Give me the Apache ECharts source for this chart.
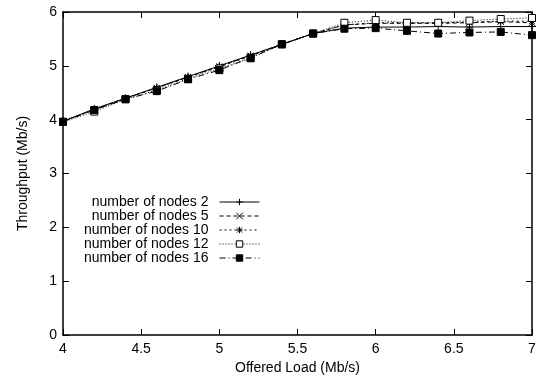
<!DOCTYPE html>
<html><head><meta charset="utf-8">
<script src="https://cdn.jsdelivr.net/npm/echarts@6/dist/echarts.min.js"></script>
<style>html,body{margin:0;padding:0;background:#fff}#c{width:546px;height:381px}</style>
</head><body><div id="c"></div>
<script>
const offeredLoad = [4.0,4.2,4.4,4.6,4.8,5.0,5.2,5.4,5.6,5.8,6.0,6.2,6.4,6.6,6.8,7.0];
const nodes2  = [3.97,4.20,4.40,4.60,4.80,5.00,5.20,5.40,5.60,5.70,5.72,5.72,5.73,5.72,5.73,5.73];
const nodes5  = [3.97,4.19,4.40,4.59,4.79,4.99,5.19,5.40,5.60,5.76,5.79,5.79,5.79,5.80,5.82,5.80];
const nodes10 = [3.97,4.19,4.39,4.59,4.79,4.98,5.18,5.40,5.60,5.76,5.80,5.80,5.80,5.81,5.83,5.83];
const nodes12 = [3.96,4.15,4.38,4.55,4.76,4.95,5.14,5.40,5.60,5.80,5.85,5.80,5.80,5.84,5.87,5.89];
const nodes16 = [3.96,4.18,4.38,4.53,4.75,4.92,5.15,5.40,5.60,5.69,5.70,5.65,5.60,5.62,5.63,5.57];
const seriesNames = ['number of nodes 2','number of nodes 5','number of nodes 10','number of nodes 12','number of nodes 16'];
const xTicks = {min:4, max:7, step:0.5};
const yTicks = {min:0, max:6, step:1};

const plusPath = 'path://M0,-10L0,10M-10,0L10,0';
const crossPath = 'path://M-10,-10L10,10M-10,10L10,-10';
const starPath = 'path://M0,-10L0,10M-10,0L10,0M-8,-8L8,8M-8,8L8,-8';

const styles = [
  {type:'solid', symbol:plusPath, size:8, fill:'#000'},
  {type:[4,3], symbol:crossPath, size:6, fill:'#000'},
  {type:[2,3], symbol:starPath, size:7, fill:'#000'},
  {type:[1,2], symbol:'rect', size:7, fill:'#fff'},
  {type:[6,3,1,3], symbol:'rect', size:7, fill:'#000'}
];
const allData = [nodes2,nodes5,nodes10,nodes12,nodes16];
const font = 'Liberation Sans, Arial, Helvetica, sans-serif';
const fs = 14;

const series = allData.map((vals,i)=>({
  name: seriesNames[i], type:'line',
  data: offeredLoad.map((x,j)=>[x, vals[j]]),
  symbol: styles[i].symbol, symbolSize: styles[i].size, showAllSymbol:true,
  lineStyle:{color:'#000', width:1, type:styles[i].type},
  itemStyle:{color:styles[i].fill, borderColor:'#000', borderWidth:1},
  emphasis:{disabled:true}, animation:false
}));

const baseAxis = {
  axisLine:{show:true, onZero:false, lineStyle:{color:'#000', width:1.5}},
  axisTick:{show:true, inside:true, length:6, lineStyle:{color:'#000', width:1}},
  splitLine:{show:false}
};

const chart = echarts.init(document.getElementById('c'), null, {renderer:'canvas'});
chart.setOption({
  animation:false,
  backgroundColor:'#fff',
  textStyle:{fontFamily:font},
  grid:{left:63, right:14, top:12, bottom:46, containLabel:false},
  xAxis:[
    Object.assign({}, baseAxis, {type:'value', min:xTicks.min, max:xTicks.max, interval:xTicks.step, position:'bottom',
      name:'Offered Load (Mb/s)', nameLocation:'middle', nameGap:25,
      nameTextStyle:{color:'#000', fontSize:fs, fontFamily:font},
      axisLabel:{color:'#000', fontSize:fs, margin:7, fontFamily:font}}),
    Object.assign({}, baseAxis, {type:'value', min:xTicks.min, max:xTicks.max, interval:xTicks.step, position:'top',
      axisLabel:{show:false}})
  ],
  yAxis:[
    Object.assign({}, baseAxis, {type:'value', min:yTicks.min, max:yTicks.max, interval:yTicks.step, position:'left',
      name:'Throughput (Mb/s)', nameLocation:'middle', nameGap:33,
      nameTextStyle:{color:'#000', fontSize:fs, fontFamily:font},
      axisLabel:{color:'#000', fontSize:fs, margin:6, fontFamily:font}}),
    Object.assign({}, baseAxis, {type:'value', min:yTicks.min, max:yTicks.max, interval:yTicks.step, position:'right',
      axisLabel:{show:false}})
  ],
  legend:{
    orient:'vertical', left:84, top:195, align:'right', padding:0,
    itemWidth:40, itemHeight:8, itemGap:0,
    lineStyle:{width:1},
    itemStyle:{borderWidth:1},
    textStyle:{color:'#000', fontSize:fs, fontFamily:font, padding:[0,6,0,0], lineHeight:14},
    data: seriesNames,
    selectedMode:false
  },
  series: series
});
</script></body></html>
